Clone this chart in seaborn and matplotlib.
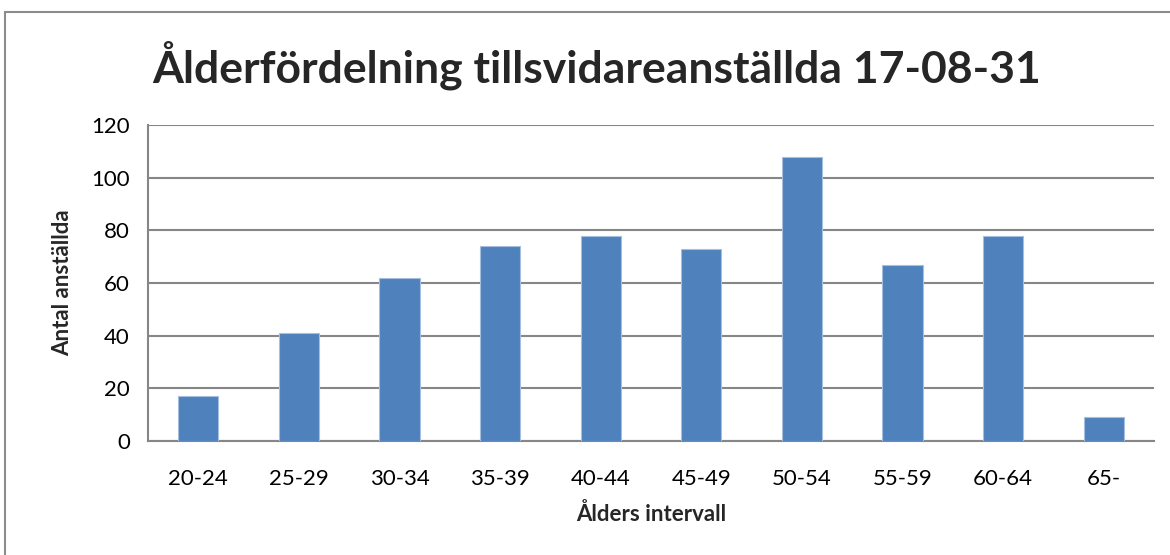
import matplotlib
matplotlib.use("Agg")
import matplotlib.pyplot as plt
import seaborn as sns
import pandas as pd
from matplotlib.patches import Rectangle

# ===== data =====
intervall = ["20-24", "25-29", "30-34", "35-39", "40-44", "45-49", "50-54", "55-59", "60-64", "65-"]
antal = [17, 41, 62, 74, 78, 73, 108, 67, 78, 9]

df = pd.DataFrame({"Intervall": intervall, "Antal": antal})

sns.set_theme(style="white")
plt.rcParams["font.family"] = ["Lato", "DejaVu Sans"]

fig = plt.figure(figsize=(11.7, 5.55), dpi=100)
ax = fig.add_axes([0.1265, 0.2054, 0.8598, 0.5694])

grid_col = "#868686"
sns.barplot(data=df, x="Intervall", y="Antal", color="#4F81BD", width=0.4,
            edgecolor="#A7BFDE", linewidth=0.8, saturation=1, ax=ax, zorder=3)

ax.set_ylim(0, 120)
ax.set_yticks(range(0, 121, 20))
ax.set_xlim(-0.5, len(intervall) - 0.5)
ax.yaxis.grid(True, color=grid_col, linewidth=1.5)
ax.set_axisbelow(True)

for s in ["top", "right"]:
    ax.spines[s].set_visible(False)
for s in ["left", "bottom"]:
    ax.spines[s].set_color(grid_col)
    ax.spines[s].set_linewidth(1.5)

# x ticks at category boundaries
ax.set_xticks([i - 0.5 for i in range(len(intervall) + 1)], minor=True)
ax.tick_params(axis="x", which="minor", length=7, width=1.5, color=grid_col, direction="out")
ax.tick_params(axis="x", which="major", length=0, labelsize=16, pad=20, colors="black")
ax.tick_params(axis="y", length=7, width=1.5, color=grid_col, labelsize=16, pad=6, colors="black")

ax.set_xlabel("Ålders intervall", fontsize=16, fontweight="bold", labelpad=10)
ax.set_ylabel("Antal anställda", fontsize=16, fontweight="bold", labelpad=13)

fig.text(0.51, 0.883, "Ålderfördelning tillsvidareanställda 17-08-31", ha="center", va="center",
         fontsize=32, fontweight="bold")

fig.patches.append(Rectangle((0.004, -0.05), 1.1, 1.028, transform=fig.transFigure,
                             fill=False, edgecolor="#8C8C8C", linewidth=1.5))

fig.savefig("out.png", dpi=100)
